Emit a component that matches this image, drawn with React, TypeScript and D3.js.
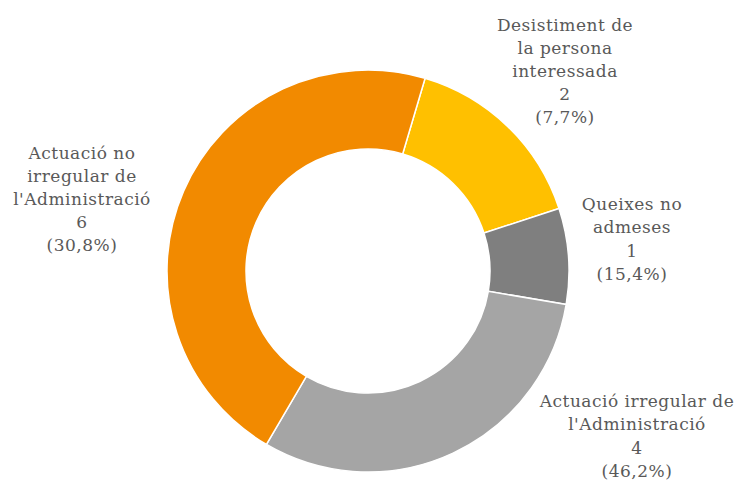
import React, { useEffect, useRef } from 'react';
import * as d3 from 'd3';

// Dades del gràfic
const categories = [
  'Desistiment de la persona interessada',
  'Queixes no admeses',
  "Actuació irregular de l'Administració",
  "Actuació no irregular de l'Administració",
];
const values = [2, 1, 4, 6];
const percentLabels = ['(7,7%)', '(15,4%)', '(46,2%)', '(30,8%)'];
const labelLines = [
  ['Desistiment de', 'la persona', 'interessada'],
  ['Queixes no', 'admeses'],
  ['Actuació irregular de', "l'Administració"],
  ['Actuació no', 'irregular de', "l'Administració"],
];
const colors = ['#FFC000', '#7F7F7F', '#A5A5A5', '#F28A00'];

const width = 739;
const height = 481;

const App: React.FC = () => {
  const svgRef = useRef<SVGSVGElement>(null);

  useEffect(() => {
    if (!svgRef.current) return;
    const svg = d3.select(svgRef.current);
    svg.selectAll('*').remove();

    const cx = 368;
    const cy = 271;
    const outer = 201;
    const inner = 122;
    const startAngle = (16.5 * Math.PI) / 180;

    const pie = d3.pie<number>()
      .sort(null)
      .startAngle(startAngle)
      .endAngle(startAngle + 2 * Math.PI);

    const arc = d3.arc<d3.PieArcDatum<number>>()
      .innerRadius(inner)
      .outerRadius(outer);

    const arcs = pie(values);

    const g = svg.append('g').attr('transform', `translate(${cx},${cy})`);
    g.selectAll('path')
      .data(arcs)
      .join('path')
      .attr('d', d => arc(d) as string)
      .attr('fill', (d, i) => colors[i])
      .attr('stroke', '#fff')
      .attr('stroke-width', 1.5)
      .append('title')
      .text((d, i) => categories[i]);

    // Posició de les etiquetes (centre del bloc de text)
    const labelPos = [
      [565, 71],
      [632, 239],
      [637, 436],
      [82, 199],
    ];
    const lineH = 23.2;

    const labels = svg.append('g')
      .attr('text-anchor', 'middle')
      .style('font-family', '"DejaVu Serif", serif')
      .style('font-size', '17px')
      .style('letter-spacing', '0.5px')
      .attr('fill', '#595959');

    arcs.forEach((d, i) => {
      const lines = [...labelLines[i], String(values[i]), percentLabels[i]];
      const [x, y] = labelPos[i];
      const top = y - ((lines.length - 1) * lineH) / 2;
      const t = labels.append('text');
      lines.forEach((ln, j) => {
        t.append('tspan')
          .attr('x', x)
          .attr('y', top + j * lineH)
          .attr('dy', '0.35em')
          .text(ln);
      });
    });
  }, []);

  return (
    <svg
      ref={svgRef}
      width={width}
      height={height}
      style={{ position: 'absolute', left: 0, top: 0, background: '#fff' }}
    />
  );
};

export default App;
